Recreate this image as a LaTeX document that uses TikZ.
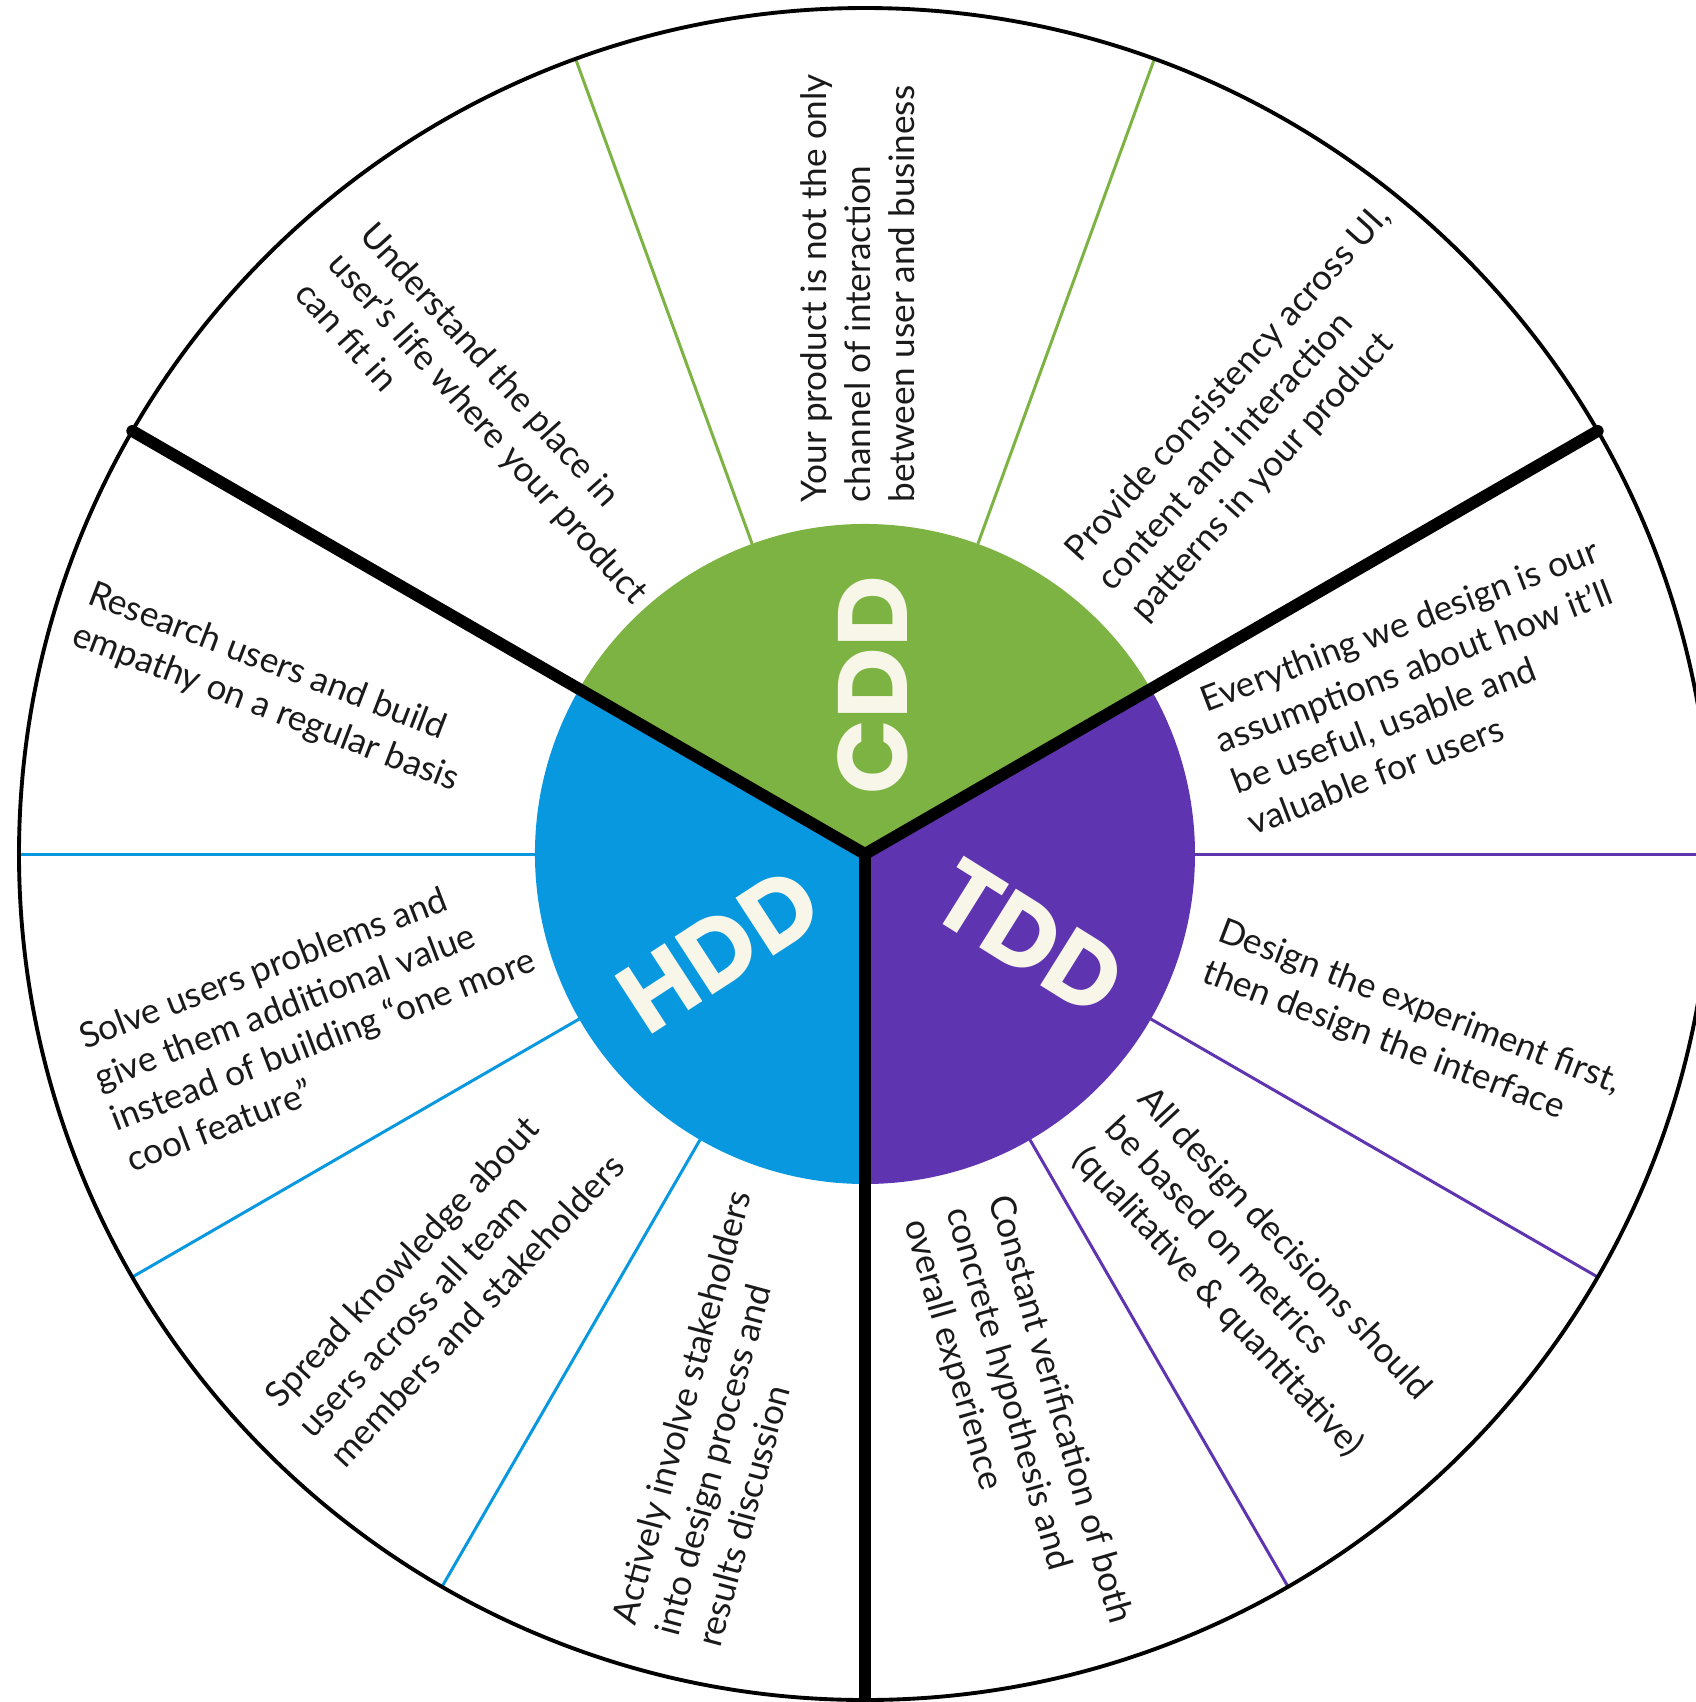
\documentclass[tikz,border=0pt]{standalone}
\usepackage{fontspec}
\setmainfont{Lato}
\newfontfamily\labelfont{Poppins}
\definecolor{cddgreen}{HTML}{7CB342}
\definecolor{hddblue}{HTML}{0898DF}
\definecolor{tddpurple}{HTML}{5E34B1}
\definecolor{labelcream}{HTML}{F8F6E8}
\definecolor{ink}{HTML}{1A1A1A}
\begin{document}
\begin{tikzpicture}[x=0.01cm,y=0.01cm,
  thickrule/.style={line width=3.4pt, black, line cap=round},
  thinrule/.style={line width=0.85pt},
  rim/.style={line width=1.1pt, black},
  note/.style={font=\fontsize{10}{12.5}\selectfont, text=ink, align=left, inner sep=0pt, anchor=north west},
  tag/.style={font=\labelfont\bfseries\fontsize{28}{28}\selectfont, text=labelcream, inner sep=0pt}]
\useasboundingbox (0,0) rectangle (1696,-1702);
\coordinate (C) at (865,-854);

\begin{scope}[shift={(C)}]
  % inner disc, three coloured sectors
  \fill[cddgreen]  (0,0) -- (30:330)  arc[start angle=30,  end angle=150, radius=330] -- cycle;
  \fill[hddblue]   (0,0) -- (150:330) arc[start angle=150, end angle=270, radius=330] -- cycle;
  \fill[tddpurple] (0,0) -- (270:330) arc[start angle=270, end angle=390, radius=330] -- cycle;
  % thin dividers inside each sector
  \foreach \a in {70,110} \draw[thinrule, cddgreen] (\a:330) -- (\a:846);
  \foreach \a in {180,210,240} \draw[thinrule, hddblue] (\a:330) -- (\a:846);
  \foreach \a in {0,-30,-60} \draw[thinrule, tddpurple] (\a:330) -- (\a:846);
  % outer rim and main dividers
  \draw[rim] (0,0) circle[radius=846];
  \foreach \a in {30,150,270} \draw[thickrule] (0,0) -- (\a:846);
\end{scope}

% sector titles
\node[tag, rotate=90]  (cdd) at (873,-685) {CDD};
\node[tag, rotate=33]  (hdd) at (719,-950) {HDD};
\node[tag, rotate=-32] (tdd) at (1029,-938) {TDD};

% CDD notes
\node[note, rotate=-48] (cdd1) at (378,-218) {Understand the place in\\user’s life where your product\\can fit in};
\node[note, rotate=90]  (cdd2) at (800,-503) {Your product is not the only\\channel of interaction\\between user and business};
\node[note, rotate=48]  (cdd3) at (1060,-546) {Provide consistency across UI,\\content and interaction\\patterns in your product};

% HDD notes
\node[note, rotate=-21] (hdd1) at (95,-578) {Research users and build\\empathy on a regular basis};
\node[note, rotate=21]  (hdd2) at (75,-1025) {Solve users problems and\\give them additional value\\instead of building “one more\\cool feature”};
\node[note, rotate=47]  (hdd3) at (261,-1392) {Spread knowledge about\\users across all team\\members and stakeholders};
\node[note, rotate=75]  (hdd4) at (610,-1620) {Actively involve stakeholders\\into design process and\\results discussion};

% TDD notes
\node[note, rotate=21]  (tdd1) at (1196,-688) {Everything we design is our\\assumptions about how it’ll\\be useful, usable and\\valuable for users};
\node[note, rotate=-21] (tdd2) at (1225,-915) {Design the experiment first,\\then design the interface};
\node[note, rotate=-47] (tdd3) at (1155,-1082) {All design decisions should\\be based on metrics\\(qualitative \& quantitative)};
\node[note, rotate=-74] (tdd4) at (1014,-1191) {Constant verification of both\\concrete hypothesis and\\overall experience};
\end{tikzpicture}
\end{document}
